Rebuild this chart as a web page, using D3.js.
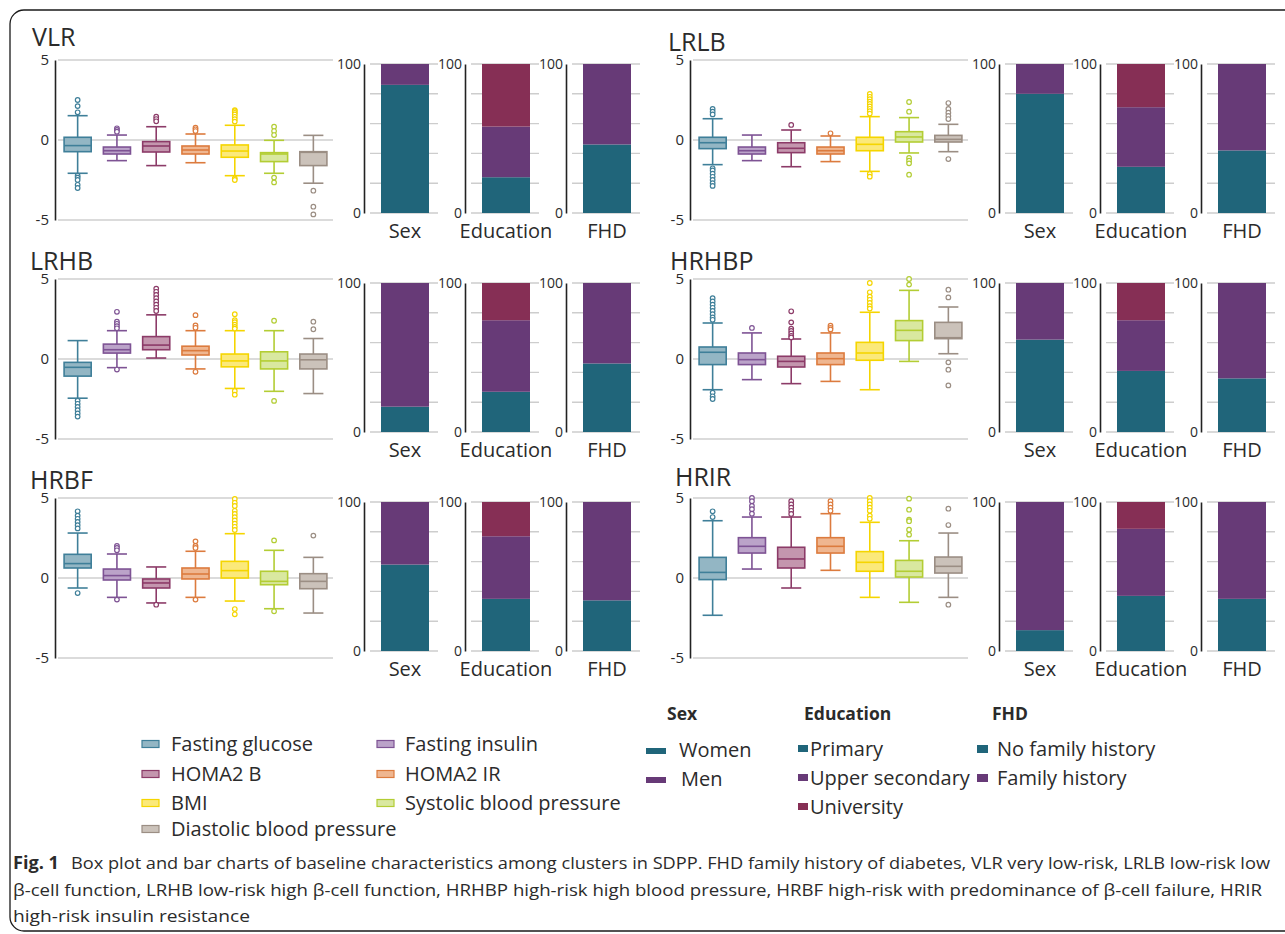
<!DOCTYPE html>
<html>
<head>
<meta charset="utf-8">
<script src="https://cdn.jsdelivr.net/npm/d3@7"></script>
<style>
  body { margin: 0; background: #fff; }
  svg { display: block; }
  text { font-family: "Open Sans", "Noto Sans", sans-serif; fill: #2b2b2b; }
</style>
</head>
<body>
<svg id="fig" width="1285" height="934"></svg>
<script>
// ---- Variables shown in every box plot (standardised values) ----
const varNames = ["Fasting glucose", "Fasting insulin", "HOMA2 B", "HOMA2 IR", "BMI",
  "Systolic blood pressure", "Diastolic blood pressure"];
const strokeColors = ["#3f7f99", "#7e5394", "#8c3b68", "#dc7b3e", "#f5d500", "#b3cd34", "#9b8e84"];
const fillColors = ["#93b6c4", "#bba3c9", "#c496ae", "#efb690", "#fbe97a", "#d9e8a0", "#cbc2ba"];

const clusters = ["VLR", "LRLB", "LRHB", "HRHBP", "HRBF", "HRIR"];

// box stats per variable: [lower whisker, Q1, median, Q3, upper whisker]
const vlrBoxes = [[-2.08, -0.73, -0.35, 0.17, 1.52], [-1.29, -0.875, -0.67, -0.44, 0.31], [-1.6, -0.75, -0.375, -0.1, 0.83],
  [-1.42, -0.875, -0.625, -0.375, 0.375], [-2.23, -1.08, -0.69, -0.31, 0.92], [-2.08, -1.35, -0.875, -0.79, -0.02],
  [-2.7, -1.6, -0.77, -0.73, 0.29]];
const vlrOutliers = [[2.5, 2.12, 1.73, -2.23, -2.35, -2.5, -2.8, -3.0], [0.73, 0.63, 0.52], [1.46, 1.31, 1.17],
  [0.77, 0.67, 0.56], [1.87, 1.8, 1.7, 1.6, 1.45, 1.3, 1.15, -2.4, -2.5], [0.83, 0.56, 0.31, -2.35, -2.65],
  [-3.17, -4.17, -4.65]];

const lrlbBoxes = [[-1.54, -0.54, -0.17, 0.17, 1.33], [-1.29, -0.875, -0.67, -0.44, 0.31], [-1.67, -0.79, -0.52, -0.17, 0.625],
  [-1.35, -0.875, -0.67, -0.44, 0.25], [-1.96, -0.67, -0.27, 0.17, 1.46], [-0.81, -0.125, 0.19, 0.52, 1.4],
  [-0.73, -0.125, 0.04, 0.29, 0.98]];
const lrlbOutliers = [[1.94, 1.77, 1.6, -1.77, -1.9, -2.1, -2.3, -2.5, -2.7, -2.87], [], [0.94], [0.42],
  [2.875, 2.7, 2.55, 2.4, 2.25, 2.1, 1.95, 1.8, 1.65, -2.125, -2.29], [2.375, 1.77, -1.125, -1.29, -1.46, -2.17],
  [2.31, 1.94, 1.71, 1.5, 1.31, -1.19]];

const lrhbBoxes = [[-2.45, -1.07, -0.52, -0.21, 1.15], [-0.54, 0.37, 0.58, 0.93, 1.77], [0.06, 0.58, 0.87, 1.4, 2.76],
  [-0.62, 0.25, 0.52, 0.8, 1.77], [-1.84, -0.49, -0.12, 0.31, 1.77], [-2.02, -0.62, -0.12, 0.45, 1.77],
  [-2.16, -0.62, -0.05, 0.31, 1.28]];
const lrhbOutliers = [[-2.6, -2.8, -3.0, -3.2, -3.4, -3.6], [2.95, 2.33, 2.2, 2.05, 1.92, -0.66],
  [4.4, 4.2, 4.0, 3.8, 3.6, 3.4, 3.2, 3.0], [2.74, 2.1, 1.95, -0.8], [2.8, 2.43, 2.3, 2.15, 2.0, 1.9, -2.0, -2.23],
  [2.39, -2.62], [2.33, 1.86]];

const hrhbpBoxes = [[-1.92, -0.35, 0.42, 0.75, 2.25], [-1.29, -0.35, -0.04, 0.375, 1.63], [-1.54, -0.5, -0.15, 0.17, 1.25],
  [-1.4, -0.35, 0.02, 0.375, 1.63], [-1.92, -0.08, 0.375, 1.04, 2.92], [-0.15, 1.15, 1.79, 2.4, 4.29],
  [0.33, 1.27, 1.33, 2.29, 3.25]];
const hrhbpOutliers = [[3.8, 3.6, 3.4, 3.2, 3.0, 2.8, 2.6, 2.45, -2.1, -2.33, -2.5], [1.94],
  [2.98, 2.29, 1.9, 1.75, 1.6, 1.45, 1.35], [2.08, 1.95, 1.85], [4.75, 4.17, 3.9, 3.7, 3.5, 3.3, 3.15],
  [5.0, 4.65], [4.33, 3.85, -0.21, -0.67, -1.65]];

const hrbfBoxes = [[-0.625, 0.625, 0.9, 1.48, 2.81], [-1.21, -0.125, 0.15, 0.56, 1.5], [-1.56, -0.625, -0.31, -0.06, 0.69],
  [-1.21, -0.06, 0.25, 0.625, 1.67], [-1.44, 0.0, 0.46, 1.04, 2.77], [-1.92, -0.42, -0.21, 0.42, 1.73],
  [-2.19, -0.67, -0.21, 0.27, 1.29]];
const hrbfOutliers = [[4.17, 3.9, 3.7, 3.5, 3.3, 3.1, -0.94], [2.0, 1.875, 1.73, -1.35], [-1.67], [2.29, 2.0, 1.875, -1.35],
  [4.94, 4.7, 4.5, 4.2, 4.0, 3.8, 3.6, 3.4, 3.2, 3.0, -1.94, -2.27], [2.35, -2.08], [2.65]];

const hrirBoxes = [[-2.33, -0.1, 0.35, 1.29, 3.58], [0.56, 1.56, 1.98, 2.52, 3.81], [-0.625, 0.625, 1.19, 1.92, 3.81],
  [0.48, 1.56, 1.98, 2.52, 4.02], [-1.21, 0.42, 0.98, 1.65, 3.48], [-1.52, 0.06, 0.42, 1.1, 2.33],
  [-1.21, 0.31, 0.73, 1.31, 2.81]];
const hrirOutliers = [[4.17, 3.81], [5.0, 4.8, 4.5, 4.3, 4.02], [4.8, 4.6, 4.4, 4.2, 4.0], [4.8, 4.6, 4.4, 4.2],
  [5.0, 4.8, 4.6, 4.4, 4.2, 3.9, 3.7], [4.96, 4.27, 3.65, 3.55, 3.02, 2.71], [4.33, 3.31, -1.67]];

const boxTicks = [5, 0, -5];

// ---- Stacked bar percentages per cluster (same order as clusters) ----
const sexWomen = [86, 80, 17, 62, 58, 14];
const sexMen = [14, 20, 83, 38, 42, 86];
const eduPrimary = [24, 31, 27, 41, 35, 37];
const eduUpper = [34, 40, 48, 34, 42, 45];
const eduUniversity = [42, 29, 25, 25, 23, 18];
const fhdNo = [46, 42, 46, 36, 34, 35];
const fhdYes = [54, 58, 54, 64, 66, 65];

const barGroups = ["Sex", "Education", "FHD"];
const barTicks = [0, 20, 40, 60, 80, 100];
const barColors = ["#20657a", "#673a77", "#862f55"];

// ---- Legends ----
const sexLabels = ["Women", "Men"];
const eduLabels = ["Primary", "Upper secondary", "University"];
const fhdLabels = ["No family history", "Family history"];

const captionLines = [
  "Box plot and bar charts of baseline characteristics among clusters in SDPP. FHD family history of diabetes, VLR very low-risk, LRLB low-risk low",
  "β-cell function, LRHB low-risk high β-cell function, HRHBP high-risk high blood pressure, HRBF high-risk with predominance of β-cell failure, HRIR",
  "high-risk insulin resistance"
];

// ---- Drawing ----
const svg = d3.select("#fig");

// rounded frame around the figure
svg.append("rect").attr("x", 10).attr("y", 10).attr("width", 1300).attr("height", 921)
  .attr("rx", 14).attr("fill", "none").attr("stroke", "#1a1a1a").attr("stroke-width", 1.3);

const boxesByCluster = [vlrBoxes, lrlbBoxes, lrhbBoxes, hrhbpBoxes, hrbfBoxes, hrirBoxes];
const outliersByCluster = [vlrOutliers, lrlbOutliers, lrhbOutliers, hrhbpOutliers, hrbfOutliers, hrirOutliers];

const rowTops = [60, 279, 498];
const colLefts = [58, 693];
const titlePos = [[32, 46], [668, 51], [30, 270], [670, 270], [30, 489], [675, 486]];
const plotW = 275, plotH = 160;

clusters.forEach((name, ci) => {
  const ox = colLefts[ci % 2];
  const top = rowTops[Math.floor(ci / 2)];
  const g = svg.append("g");

  g.append("text").attr("x", titlePos[ci][0]).attr("y", titlePos[ci][1])
    .attr("font-size", 25).attr("fill", "#1a1a1a").text(name);

  const y = d3.scaleLinear().domain([-5, 5]).range([top + plotH, top]);
  const x = d3.scaleBand().domain(varNames).range([ox, ox + plotW]).paddingInner(0.31).paddingOuter(0.155);

  // horizontal reference lines at -5, 0, 5
  g.selectAll(".grid").data(boxTicks).join("line")
    .attr("x1", ox).attr("x2", ox + plotW)
    .attr("y1", d => y(d)).attr("y2", d => y(d))
    .attr("stroke", "#cfcfcf").attr("stroke-width", 1.5);

  const ax = g.append("g").attr("transform", `translate(${ox - 3},0)`)
    .call(d3.axisLeft(y).tickValues(boxTicks).tickSize(0).tickPadding(6).tickFormat(d => String(d)));
  ax.select(".domain").attr("stroke", "#222").attr("stroke-width", 1.6);
  ax.selectAll("text").attr("font-size", 15).attr("fill", "#333")
    .attr("font-family", '"Open Sans", sans-serif');

  const boxes = boxesByCluster[ci];
  const outs = outliersByCluster[ci];
  const bw = x.bandwidth();
  varNames.forEach((v, vi) => {
    const [lo, q1, med, q3, hi] = boxes[vi];
    const cx = x(v) + bw / 2;
    const col = strokeColors[vi];
    const bg = g.append("g");
    bg.append("line").attr("x1", cx).attr("x2", cx).attr("y1", y(hi)).attr("y2", y(lo))
      .attr("stroke", col).attr("stroke-width", 1.6);
    [lo, hi].forEach(w => bg.append("line").attr("x1", cx - bw * 0.37).attr("x2", cx + bw * 0.37)
      .attr("y1", y(w)).attr("y2", y(w)).attr("stroke", col).attr("stroke-width", 1.6));
    bg.append("rect").attr("x", x(v)).attr("width", bw).attr("y", y(q3)).attr("height", y(q1) - y(q3))
      .attr("fill", fillColors[vi]).attr("stroke", col).attr("stroke-width", 1.6);
    bg.append("line").attr("x1", x(v)).attr("x2", x(v) + bw).attr("y1", y(med)).attr("y2", y(med))
      .attr("stroke", col).attr("stroke-width", 1.6);
    bg.selectAll("circle").data(outs[vi]).join("circle")
      .attr("cx", cx).attr("cy", d => y(d)).attr("r", 2.3)
      .attr("fill", "#fff").attr("stroke", col).attr("stroke-width", 1.2);
  });

  // stacked percentage bars: Sex, Education, FHD
  const by = d3.scaleLinear().domain([0, 100]).range([top + 153, top + 4]);
  const bx = d3.scaleBand().domain(barGroups).range([ox + 306, ox + 609]);
  const stacks = {
    Sex: [sexWomen[ci], sexMen[ci]],
    Education: [eduPrimary[ci], eduUpper[ci], eduUniversity[ci]],
    FHD: [fhdNo[ci], fhdYes[ci]]
  };
  barGroups.forEach(grp => {
    const a0 = bx(grp);
    const bgp = g.append("g");
    bgp.selectAll(".bgrid").data(barTicks).join("line")
      .attr("x1", a0 + 6).attr("x2", a0 + 74)
      .attr("y1", d => by(d)).attr("y2", d => by(d))
      .attr("stroke", "#cdcdcd").attr("stroke-width", 1.4);
    const vals = stacks[grp];
    const keys = vals.map((_, i) => "k" + i);
    const row = {}; keys.forEach((k, i) => row[k] = vals[i]);
    const series = d3.stack().keys(keys)([row]);
    bgp.selectAll(".seg").data(series).join("rect")
      .attr("x", a0 + 17).attr("width", 48)
      .attr("y", d => by(d[0][1])).attr("height", d => by(d[0][0]) - by(d[0][1]))
      .attr("fill", (d, i) => barColors[i]);
    const bax = bgp.append("g").attr("transform", `translate(${a0},0)`)
      .call(d3.axisLeft(by).tickValues([0, 100]).tickSize(0).tickPadding(3));
    bax.select(".domain").attr("stroke", "#222").attr("stroke-width", 1.6);
    bax.selectAll("text").attr("font-size", 14).attr("fill", "#333")
      .attr("font-family", '"Open Sans", sans-serif');
    bgp.append("text").attr("x", a0 + 41).attr("y", top + 153 + 25)
      .attr("text-anchor", "middle").attr("font-size", 20).text(grp);
  });
});

// ---- Box legend (two columns) ----
const legCols = [[142, 171], [377, 405]];
const legRows = [744, 774, 803, 829];
const legPlace = [[0, 0], [1, 0], [0, 1], [1, 1], [0, 2], [1, 2], [0, 3]];
varNames.forEach((v, i) => {
  const [c, r] = legPlace[i];
  svg.append("rect").attr("x", legCols[c][0]).attr("y", legRows[r] - 3.5).attr("width", 17).attr("height", 7)
    .attr("fill", fillColors[i]).attr("stroke", strokeColors[i]).attr("stroke-width", 1.2);
  svg.append("text").attr("x", legCols[c][1]).attr("y", legRows[r]).attr("dy", "0.35em")
    .attr("font-size", 20).text(v);
});

// ---- Categorical legends ----
const heads = [["Sex", 667], ["Education", 804], ["FHD", 992]];
heads.forEach(([t, hx]) => svg.append("text").attr("x", hx).attr("y", 714).attr("dy", "0.35em")
  .attr("font-size", 17.5).attr("font-weight", "bold").attr("fill", "#1a1a1a").text(t));

sexLabels.forEach((t, i) => {
  const yy = 751 + i * 29;
  svg.append("rect").attr("x", 646).attr("y", yy - 3).attr("width", 20).attr("height", 6).attr("fill", barColors[i]);
  svg.append("text").attr("x", 679 + i * 2).attr("y", yy - 1).attr("dy", "0.35em").attr("font-size", 20).text(t);
});
eduLabels.forEach((t, i) => {
  const yy = 749 + i * 29;
  svg.append("rect").attr("x", 798).attr("y", yy - 4).attr("width", 10).attr("height", 7).attr("fill", barColors[i]);
  svg.append("text").attr("x", 810).attr("y", yy).attr("dy", "0.35em").attr("font-size", 20).text(t);
});
fhdLabels.forEach((t, i) => {
  const yy = 749 + i * 29;
  svg.append("rect").attr("x", 977).attr("y", yy - 4).attr("width", 11).attr("height", 8).attr("fill", barColors[i]);
  svg.append("text").attr("x", 997).attr("y", yy).attr("dy", "0.35em").attr("font-size", 20).text(t);
});

// ---- Caption ----
const capFont = '"Liberation Sans Narrow", "Roboto", sans-serif';
svg.append("text").attr("x", 13).attr("y", 869).attr("font-size", 17).attr("font-weight", "bold")
  .attr("font-family", capFont).attr("fill", "#2a2a2a").attr("textLength", 46).attr("lengthAdjust", "spacingAndGlyphs")
  .text("Fig. 1");
const capX = [71, 13, 13];
const capLen = [1199, 1249, 237];
const capY = [869, 896, 922];
captionLines.forEach((t, i) => {
  svg.append("text").attr("x", capX[i]).attr("y", capY[i]).attr("font-size", 17)
    .attr("font-family", capFont).attr("fill", "#333")
    .attr("textLength", capLen[i]).attr("lengthAdjust", "spacingAndGlyphs").text(t);
});
</script>
</body>
</html>
